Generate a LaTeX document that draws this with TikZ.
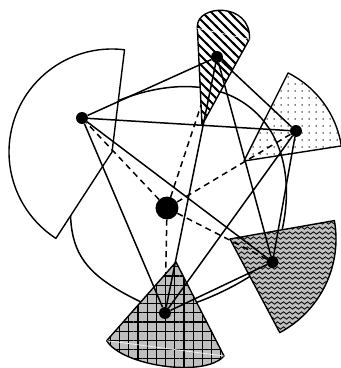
\documentclass[tikz,border=0pt]{standalone}
\usetikzlibrary{patterns.meta}
\pgfdeclarelayer{curves}
\pgfdeclarelayer{areas}
\pgfdeclarelayer{dashes}
\pgfsetlayers{curves,areas,dashes,main}
\tikzdeclarepattern{
  name=wavelines,
  type=uncolored,
  bounding box={(-0.5pt,-2pt) and (6.5pt,2pt)},
  tile size={(6pt,5pt)},
  code={
    \draw[line width=0.8pt] (0pt,0pt) sin (1.5pt,1.2pt) cos (3pt,0pt) sin (4.5pt,-1.2pt) cos (6pt,0pt);
  }
}
\tikzdeclarepattern{
  name=boldnw,
  type=uncolored,
  bounding box={(-2pt,-2pt) and (11pt,11pt)},
  tile size={(9pt,9pt)},
  code={
    \draw[line width=2pt] (-2pt,11pt) -- (11pt,-2pt);
  }
}
\begin{document}
\begin{tikzpicture}[x=1pt,y=1pt,
  edge/.style={line width=1.5pt},
  dashedge/.style={line width=1.5pt, dash pattern=on 6pt off 4.5pt},
  region/.style={line width=1.4pt, line join=round},
  dot/.style={circle, fill=black, inner sep=0pt, minimum size=12pt},
  bigdot/.style={circle, fill=black, inner sep=0pt, minimum size=23pt},
  faint/.style={white, line width=0.6pt},
]
\useasboundingbox (0,0) rectangle (341,368);
\node[dot] (A) at (217,311) {};
\node[dot] (B) at (82,250) {};
\node[dot] (C) at (296,237) {};
\node[dot] (D) at (272.5,106) {};
\node[dot] (E) at (165,55) {};
\node[bigdot] (O) at (167,160) {};

\begin{pgfonlayer}{curves}
\draw[edge] (B) .. controls (230,330) and (320,240) .. (D);
\draw[edge] (B) .. controls (59.4,122) and (64.5,99.7) .. (E);
\draw[edge] (E) to[bend right=8] (D);
\draw[dashedge] (O) -- (A);
\draw[dashedge] (O) -- (E);
\end{pgfonlayer}

\begin{pgfonlayer}{areas}
% left sector
\draw[region, fill=white] (112,216) -- ++(83:103) arc[start angle=83, end angle=237, radius=103] -- cycle;
% top cone
\draw[region, preaction={fill=white}, pattern=boldnw, pattern color=black]
  (202,243) -- (197.3,341.3) .. controls (197,364) and (251,366) .. (249.5,329) -- cycle;
\draw[faint] (197.3,339.7) -- (249.5,328.7);
% dotted sector
\draw[region, pattern={Dots[distance=6.5pt,radius=0.8pt]}]
  (244,207) -- ++(8.8:98.5) arc[start angle=8.8, end angle=63.4, radius=98.5] -- cycle;
% wavy sector
\draw[region, preaction={fill=gray!50}, pattern=wavelines, pattern color=black]
  (230,129) -- ++(-62:106) arc[start angle=-62, end angle=10, radius=106] -- cycle;
% bottom cone
\draw[region, preaction={fill=gray!50}, pattern={Hatch[angle=0,distance=9.2pt,line width=1.3pt]}]
  (176,106) -- (106.7,27.3) .. controls (122,2) and (205,-10) .. (224,12) -- cycle;
\draw[faint] (106.7,27.3) -- (224,12);
\end{pgfonlayer}

\begin{pgfonlayer}{dashes}
\draw[dashedge] (O) -- (B);
\draw[dashedge] (O) -- (C);
\draw[dashedge] (O) -- (D);
\end{pgfonlayer}

\draw[edge] (A) -- (B) (A) -- (C) (A) -- (D) (A) -- (E)
  (B) -- (C) (B) -- (D) (B) -- (E)
  (C) -- (D) (C) -- (E) (D) -- (E);
\end{tikzpicture}
\end{document}
